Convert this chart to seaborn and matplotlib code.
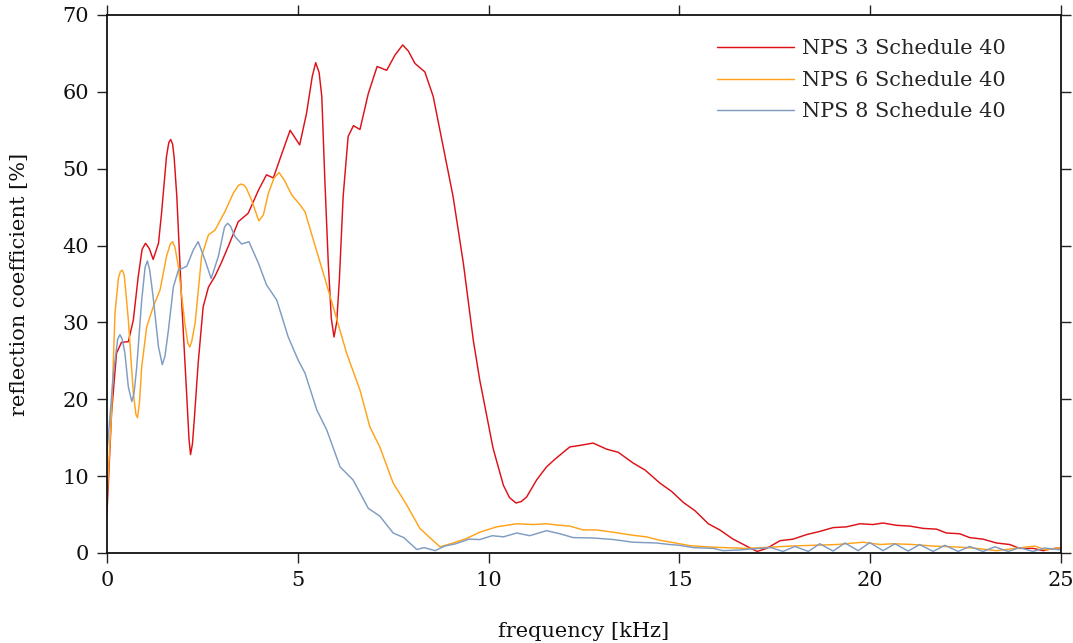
import numpy as np
import pandas as pd
import matplotlib
matplotlib.use("Agg")
import matplotlib.pyplot as plt
import seaborn as sns

# Measured reflection coefficient [%] versus frequency [kHz] for three pipe sizes
nps3_freq = [0.0, 0.12, 0.25, 0.38, 0.56, 0.69, 0.82, 0.92, 1.01, 1.11, 1.21, 1.35, 1.43, 1.56,
             1.62, 1.67, 1.72, 1.76, 1.83, 1.96, 2.09, 2.15, 2.19, 2.24, 2.29, 2.39, 2.52, 2.66,
             2.83, 3.0, 3.18, 3.44, 3.70, 3.97, 4.18, 4.36, 4.55, 4.80, 5.05, 5.23, 5.38, 5.47,
             5.56, 5.63, 5.71, 5.80, 5.88, 5.95, 6.02, 6.09, 6.19, 6.32, 6.46, 6.63, 6.85, 7.08,
             7.33, 7.55, 7.75, 7.9, 8.07, 8.33, 8.55, 8.81, 9.07, 9.34, 9.60, 9.77, 10.12, 10.39,
             10.55, 10.72, 10.86, 11.0, 11.26, 11.52, 11.74, 12.13, 12.40, 12.74, 13.1, 13.4,
             13.79, 14.10, 14.49, 14.80, 15.10, 15.41, 15.76, 16.06, 16.41, 16.76, 17.04, 17.29,
             17.64, 17.98, 18.34, 18.68, 19.03, 19.38, 19.73, 20.08, 20.34, 20.69, 21.04, 21.39,
             21.74, 22.0, 22.35, 22.61, 22.96, 23.31, 23.66, 23.92, 24.27, 24.54, 24.71, 25.0]
nps3_refl = [5.2, 18.2, 26.0, 27.4, 27.5, 30.3, 36.0, 39.5, 40.3, 39.6, 38.2, 40.3, 44.2, 51.6,
             53.4, 53.8, 53.2, 51.5, 46.4, 32.5, 20.5, 14.8, 12.8, 14.2, 17.5, 24.7, 32.0, 34.6,
             36.0, 37.8, 39.9, 43.1, 44.2, 47.2, 49.2, 48.8, 51.5, 55.0, 53.1, 57.2, 62.0, 63.8,
             62.5, 59.4, 48.5, 37.7, 30.5, 28.1, 30.0, 35.5, 46.4, 54.2, 55.6, 55.1, 59.8, 63.3,
             62.8, 64.8, 66.1, 65.3, 63.7, 62.6, 59.4, 52.9, 46.4, 37.7, 27.7, 22.5, 13.6, 8.8,
             7.2, 6.5, 6.7, 7.3, 9.5, 11.2, 12.2, 13.8, 14.0, 14.3, 13.5, 13.1,
             11.7, 10.8, 9.1, 8.0, 6.6, 5.5, 3.8, 3.0, 1.8, 0.9, 0.2, 0.6,
             1.6, 1.8, 2.4, 2.8, 3.3, 3.4, 3.8, 3.7, 3.9, 3.6, 3.5, 3.2,
             3.1, 2.6, 2.5, 2.0, 1.8, 1.3, 1.1, 0.6, 0.6, 0.3, 0.5, 0.7]

nps6_freq = [0.0, 0.12, 0.21, 0.30, 0.35, 0.40, 0.45, 0.50, 0.56, 0.69, 0.76, 0.80, 0.85, 0.91,
             1.04, 1.21, 1.39, 1.56, 1.66, 1.72, 1.78, 1.87, 2.04, 2.12, 2.17, 2.22, 2.31, 2.48,
             2.66, 2.83, 3.09, 3.31, 3.44, 3.51, 3.58, 3.65, 3.79, 3.98, 4.10, 4.23, 4.38, 4.51,
             4.65, 4.84, 5.06, 5.19, 5.41, 5.67, 5.93, 6.28, 6.63, 6.89, 7.15, 7.50, 7.85, 8.20,
             8.46, 8.73, 9.07, 9.43, 9.77, 10.21, 10.74, 11.17, 11.52, 11.87, 12.13, 12.48, 12.83,
             13.27, 13.79, 14.14, 14.49, 14.84, 15.28, 15.89, 16.76, 17.2, 17.9, 18.51, 19.12,
             19.82, 20.26, 20.6, 21.13, 21.65, 22.18, 22.7, 23.31, 23.8, 24.32, 24.6, 25.0]
nps6_refl = [7.0, 18.2, 31.2, 35.8, 36.6, 36.8, 36.2, 33.6, 30.3, 20.8, 18.0, 17.6, 19.5, 24.2,
             29.4, 32.0, 34.2, 38.6, 40.2, 40.5, 39.8, 37.3, 29.9, 27.3, 26.8, 27.5, 29.9, 38.6,
             41.4, 42.0, 44.4, 46.8, 47.8, 48.0, 47.9, 47.5, 45.9, 43.2, 44.0, 46.8, 48.8, 49.5,
             48.5, 46.6, 45.3, 44.4, 40.7, 36.4, 32.0, 26.0, 21.2, 16.4, 13.8, 9.1, 6.3, 3.2,
             2.0, 0.8, 1.3, 1.9, 2.7, 3.4, 3.8, 3.7, 3.8, 3.6, 3.5, 3.0, 3.0,
             2.7, 2.3, 2.1, 1.65, 1.35, 0.95, 0.75, 0.6, 0.7, 0.9, 1.0, 1.1,
             1.4, 1.1, 1.2, 1.1, 0.9, 0.8, 0.65, 0.3, 0.6, 0.9, 0.4, 0.7]

nps8_freq = [0.0, 0.17, 0.28, 0.34, 0.40, 0.47, 0.56, 0.65, 0.71, 0.78, 0.91, 1.00, 1.06, 1.12,
             1.21, 1.35, 1.45, 1.52, 1.61, 1.74, 1.87, 2.09, 2.26, 2.39, 2.57, 2.73, 2.92, 3.08,
             3.16, 3.24, 3.35, 3.53, 3.72, 3.97, 4.18, 4.45, 4.75, 5.01, 5.19, 5.50, 5.76, 6.11,
             6.45, 6.85, 7.15, 7.50, 7.78, 8.12, 8.31, 8.60, 8.85, 9.14, 9.49, 9.77, 10.10, 10.39,
             10.74, 11.08, 11.52, 11.87, 12.22, 12.74, 13.27, 13.79, 14.4, 14.75, 15.0, 15.36,
             15.89, 16.15, 16.6, 17.1, 17.4, 17.72, 18.03, 18.38, 18.68, 19.03, 19.34, 19.69,
             19.99, 20.34, 20.65, 21.0, 21.30, 21.65, 21.96, 22.31, 22.61, 22.96, 23.27, 23.62,
             23.92, 24.27, 24.57, 25.0]
nps8_refl = [13.0, 23.4, 27.8, 28.4, 27.8, 26.0, 21.6, 19.7, 20.8, 24.2, 32.9, 37.2, 38.0, 36.8,
             33.3, 26.8, 24.5, 25.6, 29.0, 34.6, 36.8, 37.3, 39.4, 40.5, 38.1, 35.7, 38.6, 42.4,
             42.9, 42.5, 41.2, 40.2, 40.5, 37.7, 34.9, 32.9, 28.1, 25.1, 23.4, 18.6, 16.0, 11.2,
             9.5, 5.8, 4.8, 2.6, 2.0, 0.45, 0.7, 0.3, 0.9, 1.2, 1.8, 1.75, 2.25, 2.1,
             2.6, 2.25, 2.9, 2.5, 2.0, 1.95, 1.75, 1.4, 1.3, 1.1, 1.0, 0.7,
             0.6, 0.3, 0.4, 0.6, 0.7, 0.2, 0.85, 0.2, 1.2, 0.25, 1.3, 0.3,
             1.35, 0.3, 1.2, 0.25, 1.1, 0.2, 1.0, 0.2, 0.85, 0.2, 0.8, 0.2,
             0.7, 0.2, 0.65, 0.4]

series_labels = ["NPS 3 Schedule 40", "NPS 6 Schedule 40", "NPS 8 Schedule 40"]
series_colors = ["#dd1118", "#ffa31a", "#7f9cc2"]
x_ticks = [0, 5, 10, 15, 20, 25]
y_ticks = [0, 10, 20, 30, 40, 50, 60, 70]

frames = []
for label, f, r in zip(series_labels,
                       [nps3_freq, nps6_freq, nps8_freq],
                       [nps3_refl, nps6_refl, nps8_refl]):
    frames.append(pd.DataFrame({"freq": f, "refl": r, "pipe": label}))
data = pd.concat(frames, ignore_index=True)

sns.set_theme(style="ticks")
plt.rcParams["font.family"] = ["DejaVu Serif"]
plt.rcParams["lines.solid_joinstyle"] = "round"

fig = plt.figure(figsize=(10.73, 6.43), dpi=100)
ax = fig.add_axes([0.0997, 0.14, 0.889, 0.8367])

sns.lineplot(data=data, x="freq", y="refl", hue="pipe", hue_order=series_labels,
             palette=series_colors, estimator=None, sort=False, linewidth=1.05, ax=ax)

ax.set_xlim(0, 25)
ax.set_ylim(0, 70)
ax.set_xticks(x_ticks)
ax.set_yticks(y_ticks)
ax.set_xticklabels([str(t) for t in x_ticks])
ax.set_yticklabels([str(t) for t in y_ticks])

for side in ["left", "right", "top", "bottom"]:
    ax.spines[side].set_visible(True)
    ax.spines[side].set_linewidth(1.3)
    ax.spines[side].set_color("#111111")

ax.tick_params(axis="both", which="major", direction="out", length=7, width=1.0,
               color="#222222", labelsize=15, top=True, right=True,
               labeltop=False, labelright=False, pad=6, labelcolor="#111111")

ax.set_xlabel("frequency [kHz]", fontsize=15, labelpad=23, color="#111111")
ax.set_ylabel("reflection coefficient [%]", fontsize=15, labelpad=24, color="#111111")

leg = ax.legend(loc="upper right", bbox_to_anchor=(0.951, 0.970), frameon=False,
                fontsize=15, handlelength=3.7, handletextpad=0.38, labelspacing=0.6,
                borderaxespad=0.0)
for line in leg.get_lines():
    line.set_linewidth(1.05)

fig.savefig("out.png", dpi=100)
